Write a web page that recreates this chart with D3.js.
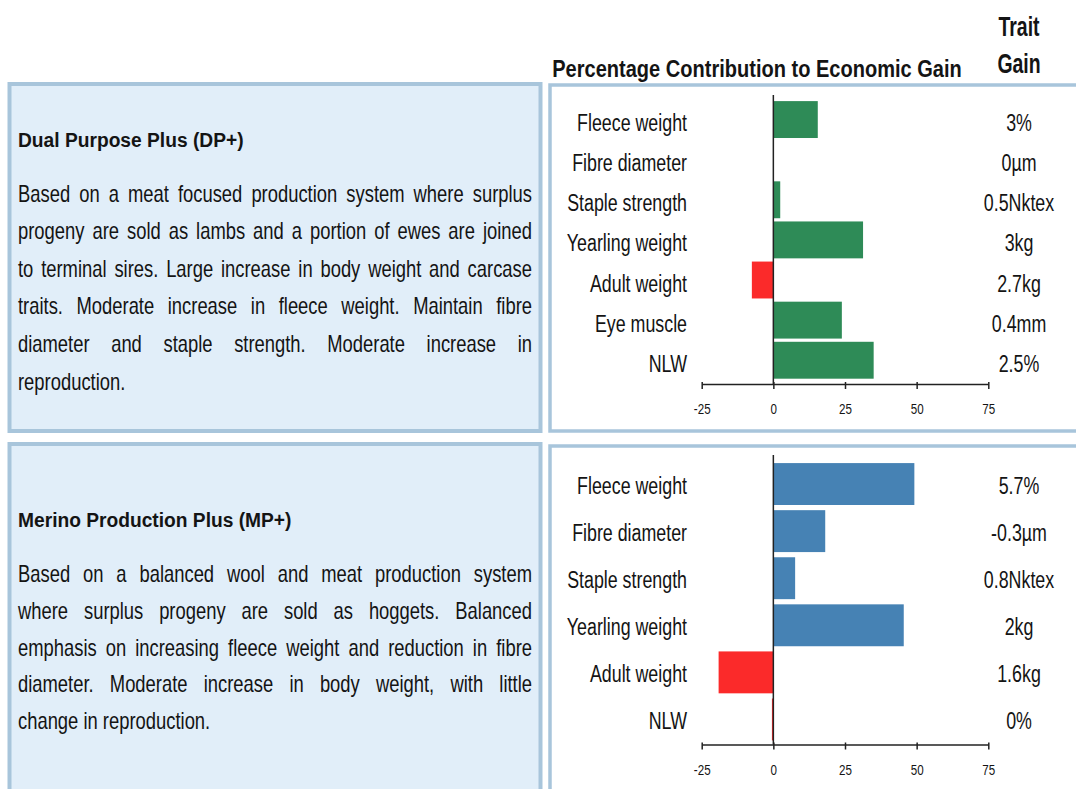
<!DOCTYPE html>
<html><head><meta charset="utf-8">
<script src="https://cdn.jsdelivr.net/npm/d3@7"></script>
<style>
html,body{margin:0;padding:0;background:#fff;}
svg{display:block;}
text{font-family:"Liberation Sans",Arial,sans-serif;fill:#141414;}
</style></head>
<body>
<svg id="c" width="1076" height="789"></svg>
<script>
// ---- data ----
const dpCategories = ["Fleece weight","Fibre diameter","Staple strength","Yearling weight","Adult weight","Eye muscle","NLW"];
const dpValues = [15.5, 0, 2.4, 31.3, -7.5, 23.9, 35];
const dpGains = ["3%","0µm","0.5Nktex","3kg","2.7kg","0.4mm","2.5%"];

const mpCategories = ["Fleece weight","Fibre diameter","Staple strength","Yearling weight","Adult weight","NLW"];
const mpValues = [49.2, 18.1, 7.6, 45.5, -19.1, -0.5];
const mpGains = ["5.7%","-0.3µm","0.8Nktex","2kg","1.6kg","0%"];

const axisTicks = [-25, 0, 25, 50, 75];
const axisDomain = [-25, 75];

const dpTitle = "Dual Purpose Plus (DP+)";
const dpLines = [
 "Based on a meat focused production system where surplus",
 "progeny are sold as lambs and a portion of ewes are joined",
 "to terminal sires. Large increase in body weight and carcase",
 "traits. Moderate increase in fleece weight. Maintain fibre",
 "diameter and staple strength. Moderate increase in",
 "reproduction."
];
const mpTitle = "Merino Production Plus (MP+)";
const mpLines = [
 "Based on a balanced wool and meat production system",
 "where surplus progeny are sold as hoggets. Balanced",
 "emphasis on increasing fleece weight and reduction in fibre",
 "diameter. Moderate increase in body weight, with little",
 "change in reproduction."
];
const chartTitle = "Percentage Contribution to Economic Gain";
const gainHeader = ["Trait","Gain"];

// ---- drawing ----
const svg = d3.select("#c");
const boxStroke = "#a8c5db";

// horizontally condensed text helper
function txt(parent, x, y, s, size, sx, opts={}){
  const t = parent.append("text")
    .attr("transform",`translate(${x},${y}) scale(${sx},1)`)
    .attr("font-size",size).text(s);
  if(opts.bold) t.attr("font-weight","bold");
  if(opts.anchor) t.attr("text-anchor",opts.anchor);
  if(opts.fill) t.attr("fill",opts.fill);
  return t;
}

// left description boxes
svg.append("rect").attr("x",9.5).attr("y",84).attr("width",531).attr("height",347)
  .attr("fill","#e1eef9").attr("stroke",boxStroke).attr("stroke-width",4);
svg.append("rect").attr("x",9.5).attr("y",444).attr("width",531).attr("height",360)
  .attr("fill","#e1eef9").attr("stroke",boxStroke).attr("stroke-width",4);
// right chart panels
svg.append("rect").attr("x",550).attr("y",85).attr("width",540).attr("height",346)
  .attr("fill","#ffffff").attr("stroke",boxStroke).attr("stroke-width",3.5);
svg.append("rect").attr("x",550).attr("y",446).attr("width",540).attr("height",360)
  .attr("fill","#ffffff").attr("stroke",boxStroke).attr("stroke-width",3.5);

// headers
txt(svg, 757, 77, chartTitle, 24, 0.835, {bold:true, anchor:"middle"});
txt(svg, 1019, 36, gainHeader[0], 27, 0.72, {bold:true, anchor:"middle"});
txt(svg, 1019, 73, gainHeader[1], 27, 0.72, {bold:true, anchor:"middle"});

// justified paragraph
const bodySize = 23, bodySx = 0.8;
function paragraph(title, lines, titleY, firstY, step){
  txt(svg, 18, titleY, title, 20, 0.96, {bold:true});
  const x0 = 18, x1 = 532;
  lines.forEach((ln,i)=>{
    const y = firstY + i*step;
    const words = ln.split(" ");
    const g = svg.append("g");
    const nodes = words.map(w=>txt(g, 0, y, w, bodySize, bodySx));
    const widths = nodes.map(n=>n.node().getComputedTextLength()*bodySx);
    const last = i===lines.length-1;
    let gap;
    if(last || words.length<2){
      gap = bodySize*0.278*bodySx;
    } else {
      gap = (x1-x0-d3.sum(widths))/(words.length-1);
    }
    let x = x0;
    nodes.forEach((n,k)=>{ n.attr("transform",`translate(${x},${y}) scale(${bodySx},1)`); x += widths[k]+gap; });
  });
}
paragraph(dpTitle, dpLines, 147, 201.5, 37.6);
paragraph(mpTitle, mpLines, 527, 582, 36.8);

// bar charts
const x = d3.scaleLinear().domain(axisDomain).range([701.7, 988.3]);
const catSize = 23, catSx = 0.775;
function chart(cats, vals, gains, color, yTop, yBot, pad, axisY, zeroTop, labelOff){
  const y = d3.scaleBand().domain(cats).range([yTop, yBot]).paddingInner(pad).paddingOuter(pad/2);
  const g = svg.append("g");
  g.selectAll("rect.bar").data(cats).enter().append("rect")
    .attr("x",(d,i)=>x(Math.min(0,vals[i])))
    .attr("y",d=>y(d))
    .attr("width",(d,i)=>Math.abs(x(vals[i])-x(0)))
    .attr("height",y.bandwidth())
    .attr("fill",(d,i)=>vals[i]<0?"#fb2a2a":color);
  cats.forEach((d,i)=>{
    const cy = y(d)+y.bandwidth()/2+labelOff;
    txt(g, 687, cy, d, catSize, catSx, {anchor:"end"});
    txt(g, 1019, cy, gains[i], catSize, catSx, {anchor:"middle"});
  });
  // zero line
  g.append("line").attr("x1",x(0)).attr("x2",x(0)).attr("y1",zeroTop).attr("y2",axisY)
    .attr("stroke","#222").attr("stroke-width",1.5);
  // axis
  const ax = d3.axisBottom(x).tickValues(axisTicks).tickFormat(d=>String(d))
    .tickSize(5).tickSizeOuter(0).tickPadding(0);
  const axg = g.append("g").attr("transform",`translate(0,${axisY})`).call(ax);
  axg.select(".domain").attr("stroke","#222").attr("stroke-width",1.5);
  axg.selectAll(".tick line").attr("stroke","#222").attr("stroke-width",1.5).attr("y1",-2);
  axg.selectAll(".tick text").attr("font-size",14.5).attr("fill","#3a3a3a")
    .attr("font-family",'"Liberation Sans",Arial,sans-serif')
    .attr("y",null).attr("dy",null)
    .attr("transform","translate(0,30) scale(0.8,1)");
}
chart(dpCategories, dpValues, dpGains, "#2e8b57", 99.5, 380.3, 0.08, 384, 95, 11.5);
chart(mpCategories, mpValues, mpGains, "#4682b4", 460.5, 743, 0.11, 744.5, 455, 10);
</script>
</body></html>
